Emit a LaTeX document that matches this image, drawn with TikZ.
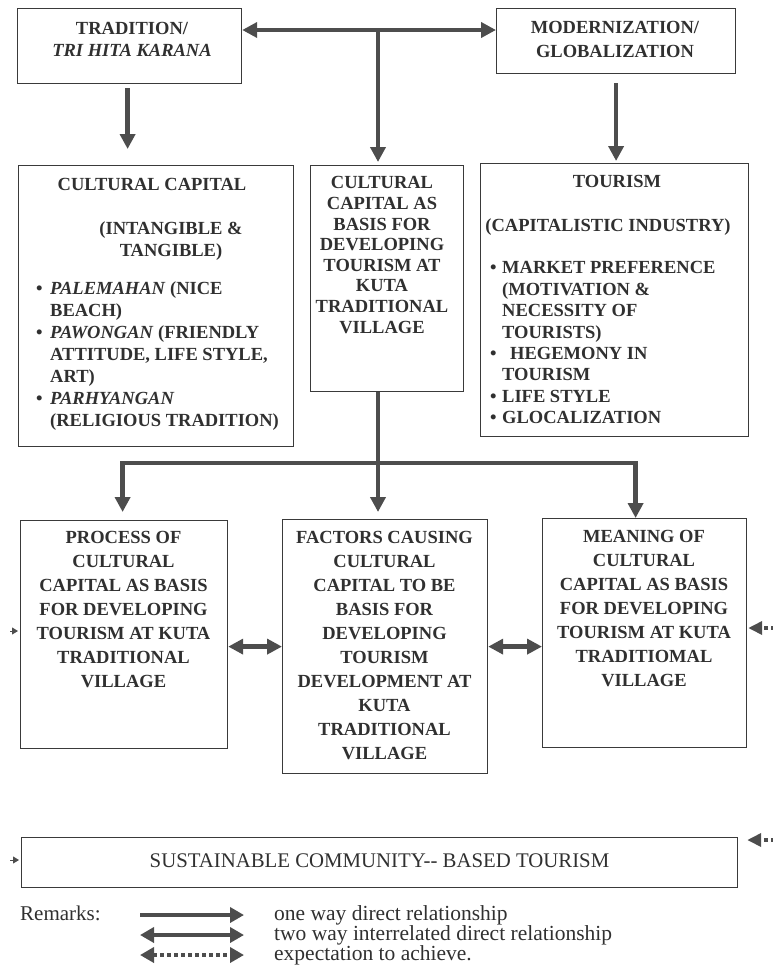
\documentclass[tikz,border=0pt]{standalone}
\usepackage{fontspec}
\setmainfont{Liberation Serif}
\usetikzlibrary{arrows.meta}

\definecolor{arrowgray}{HTML}{4D4D4D}
\definecolor{boxgray}{HTML}{3A3A3A}
\definecolor{inkgray}{HTML}{303030}

% bullets for the two lists
\newcommand{\bitem}{\makebox[14pt][l]{\textbullet}}
\newcommand{\bcont}{\makebox[14pt]{}}
\newcommand{\titem}{\makebox[12pt][l]{\textbullet}}
\newcommand{\tcont}{\makebox[12pt]{}}

\tikzset{
  frame/.style={draw=boxgray, line width=1.2pt, anchor=north west, inner sep=0pt},
  capstext/.style={text=inkgray, inner sep=0pt, anchor=north, align=center,
    font=\fontsize{18.5}{#1}\selectfont\bfseries},
  listtext/.style={text=inkgray, inner sep=0pt, anchor=north west, align=left,
    font=\fontsize{18.5}{#1}\selectfont\bfseries},
  plaintext/.style={text=inkgray, inner sep=0pt, font=\fontsize{#1}{24}\selectfont},
  link/.style={draw=arrowgray, line width=4.5pt},
  flow/.style={link, -{Triangle[length=15pt,width=15pt]}},
  twoway/.style={link, {Triangle[length=15pt,width=15pt]}-{Triangle[length=15pt,width=15pt]}},
  expect/.style={draw=arrowgray, line width=4pt, dash pattern=on 4pt off 3pt,
    -{Triangle[length=14pt,width=13pt]}},
  backin/.style={draw=arrowgray, line width=1pt, -{Triangle[length=6pt,width=7pt]}},
  legendone/.style={draw=arrowgray, line width=4pt, -{Triangle[length=14pt,width=15pt]}},
  legendtwo/.style={draw=arrowgray, line width=4pt,
    {Triangle[length=14pt,width=15pt]}-{Triangle[length=14pt,width=15pt]}},
  legenddot/.style={draw=arrowgray, line width=4pt, dash pattern=on 4pt off 3pt,
    {Triangle[length=14pt,width=15pt]}-{Triangle[length=14pt,width=15pt]}},
}

\begin{document}
\begin{tikzpicture}[x=1pt, y=-1pt]
    \useasboundingbox (0,0) rectangle (773,975);

    % frames
    \node[frame, minimum width=224, minimum height=75]  (trad)   at (17,8)    {};
    \node[frame, minimum width=239, minimum height=65]  (modern) at (496,8)   {};
    \node[frame, minimum width=275, minimum height=281] (cc)     at (18,165)  {};
    \node[frame, minimum width=153, minimum height=226] (basis)  at (310,165) {};
    \node[frame, minimum width=268, minimum height=273] (tour)   at (480,163) {};
    \node[frame, minimum width=207, minimum height=228] (proc)   at (20,520)  {};
    \node[frame, minimum width=205, minimum height=254] (fact)   at (282,519) {};
    \node[frame, minimum width=204, minimum height=229] (mean)   at (542,518) {};
    \node[frame, minimum width=716, minimum height=50]  (sus)    at (21,837)  {};

    % texts
    \node[capstext=22] (tradtext) at (132,22.5) {TRADITION/\\\textit{TRI HITA KARANA}};
    \node[capstext=23.5] (moderntext) at (615,21.5) {MODERNIZATION/\\GLOBALIZATION};

    \node[capstext=22] (cctitle) at (152,178.5) {CULTURAL CAPITAL};
    \node[capstext=22] (ccsub) at (171,221.5) {(INTANGIBLE \&\\TANGIBLE)};
    \node[listtext=22] (cclist) at (36,281.5) {%
      \bitem\textit{PALEMAHAN} (NICE\\
      \bcont BEACH)\\
      \bitem\textit{PAWONGAN} (FRIENDLY\\
      \bcont ATTITUDE, LIFE STYLE,\\
      \bcont ART)\\
      \bitem\textit{PARHYANGAN}\\
      \bcont (RELIGIOUS TRADITION)};

    \node[capstext=20.6] (basistext) at (382,176.5) {CULTURAL\\CAPITAL AS\\BASIS FOR\\DEVELOPING\\TOURISM AT\\KUTA\\TRADITIONAL\\VILLAGE};

    \node[capstext=22] (tourtitle) at (617,175.5) {TOURISM};
    \node[capstext=22] (toursub) at (608,218.5) {(CAPITALISTIC INDUSTRY)};
    \node[listtext=21.4] (tourlist) at (490,261.5) {%
      \titem MARKET PREFERENCE\\
      \tcont (MOTIVATION \&\\
      \tcont NECESSITY OF\\
      \tcont TOURISTS)\\
      \titem\hspace{8pt}HEGEMONY IN\\
      \tcont TOURISM\\
      \titem LIFE STYLE\\
      \titem GLOCALIZATION};

    \node[capstext=24] (proctext) at (123.5,531.5) {PROCESS OF\\CULTURAL\\CAPITAL AS BASIS\\FOR DEVELOPING\\TOURISM AT KUTA\\TRADITIONAL\\VILLAGE};
    \node[capstext=24] (facttext) at (384.5,531.5) {FACTORS CAUSING\\CULTURAL\\CAPITAL TO BE\\BASIS FOR\\DEVELOPING\\TOURISM\\DEVELOPMENT AT\\KUTA\\TRADITIONAL\\VILLAGE};
    \node[capstext=24] (meantext) at (644,530.5) {MEANING OF\\CULTURAL\\CAPITAL AS BASIS\\FOR DEVELOPING\\TOURISM AT KUTA\\TRADITIOMAL\\VILLAGE};

    \node[plaintext=20.8, anchor=base] (sustext) at (379.5,867) {SUSTAINABLE COMMUNITY-{}- BASED TOURISM};

    % top arrows
    \coordinate (topjoin) at (378,30);
    \draw[twoway] (trad.east |- topjoin) -- (modern.west |- topjoin);
    \draw[flow, shorten >=3pt] (topjoin) -- (topjoin |- basis.north);
    \draw[flow, shorten <=4pt, shorten >=16pt] ([xshift=-2pt]trad.south) -- ([xshift=-2pt]trad.south |- cc.north);
    \draw[flow, shorten <=9pt, shorten >=2pt] (modern.south) -- (modern.south |- tour.north);

    % branching to the three boxes
    \coordinate (hub) at (378,463);
    \draw[link] (hub |- basis.south) -- (hub);
    \draw[flow, shorten >=8pt] (hub) -| ([xshift=-1.5pt]proc.north);
    \draw[flow, shorten >=7pt] (hub) -- (hub |- fact.north);
    \draw[flow] (hub) -| ([xshift=-9pt]mean.north);
    \draw[twoway] (proc.east |- fact.west) -- (fact.west);
    \draw[twoway] (fact.east) -- (mean.west |- fact.east);

    % expectation loop, cut at the edges
    \coordinate (loopmean) at (782,628);
    \coordinate (loopsus) at (782,840);
    \draw[expect] (loopmean) -- ([xshift=1pt]mean.east |- loopmean);
    \draw[expect, shorten >=9pt] (loopsus) -- (sus.east |- loopsus);
    \coordinate (backproc) at (10,631);
    \coordinate (backsus) at (10,860);
    \draw[backin, shorten >=2pt] (backproc) -- (proc.west |- backproc);
    \draw[backin, shorten >=2pt] (backsus) -- (sus.west |- backsus);

    % remarks
    \node[plaintext=21, anchor=base west] (remarks) at (20,920) {Remarks:};
    \coordinate (lgonea) at (140,915);  \coordinate (lgoneb) at (244,915);
    \coordinate (lgtwoa) at (140,935);  \coordinate (lgtwob) at (244,935);
    \coordinate (lgdota) at (140,955);  \coordinate (lgdotb) at (244,955);
    \draw[legendone] (lgonea) -- (lgoneb);
    \draw[legendtwo] (lgtwoa) -- (lgtwob);
    \draw[legenddot] (lgdota) -- (lgdotb);
    \node[plaintext=21.5, anchor=base west] (lgonetext) at (274,920) {one way direct relationship};
    \node[plaintext=21.5, anchor=base west] (lgtwotext) at (274,940) {two way interrelated direct relationship};
    \node[plaintext=21.5, anchor=base west] (lgdottext) at (274,960) {expectation to achieve.};
\end{tikzpicture}
\end{document}
